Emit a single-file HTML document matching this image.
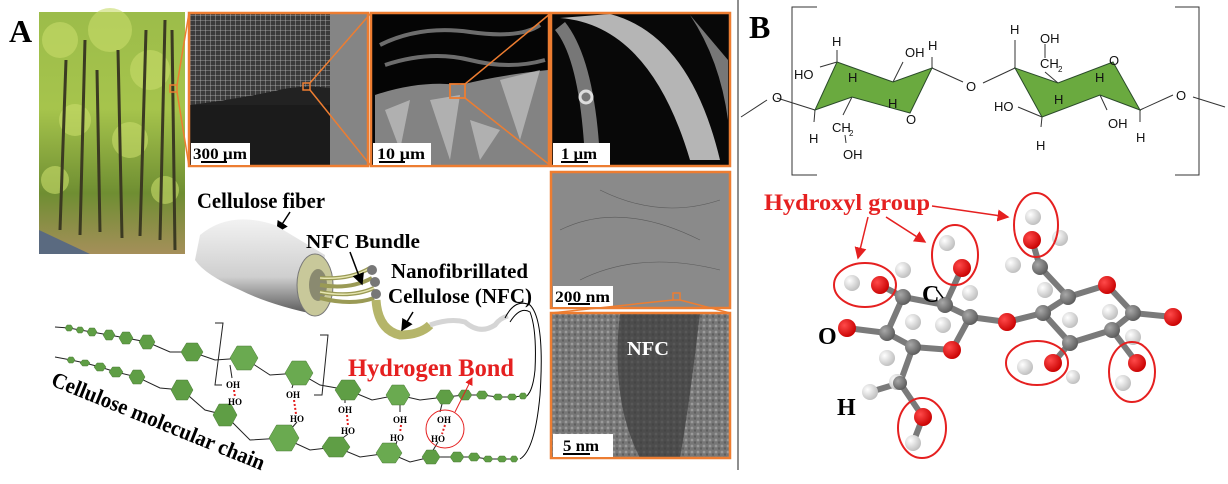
<!DOCTYPE html>
<html><head><meta charset="utf-8"><style>
html,body{margin:0;padding:0;background:#fff;}
svg{display:block;}
.s{font-family:"Liberation Serif",serif;font-weight:bold;}
.a{font-family:"Liberation Sans",sans-serif;}
</style></head><body>
<svg width="1228" height="484" viewBox="0 0 1228 484" xmlns="http://www.w3.org/2000/svg">
<defs>
<linearGradient id="tree" x1="0" y1="0" x2="0" y2="1">
<stop offset="0" stop-color="#9cbc4a"/><stop offset="0.4" stop-color="#a6c44c"/><stop offset="0.75" stop-color="#6f8e32"/><stop offset="1" stop-color="#a58f5a"/></linearGradient>
<linearGradient id="fib" x1="0" y1="0" x2="0" y2="1">
<stop offset="0" stop-color="#f2f2f2"/><stop offset="0.6" stop-color="#cfcfcf"/><stop offset="1" stop-color="#555"/></linearGradient>
<radialGradient id="gW" cx="0.35" cy="0.35" r="0.7"><stop offset="0" stop-color="#fff"/><stop offset="1" stop-color="#bdbdbd"/></radialGradient>
<radialGradient id="gR" cx="0.35" cy="0.35" r="0.7"><stop offset="0" stop-color="#ff4a4a"/><stop offset="1" stop-color="#c80000"/></radialGradient>
<radialGradient id="gG" cx="0.35" cy="0.35" r="0.7"><stop offset="0" stop-color="#a8a8a8"/><stop offset="1" stop-color="#5a5a5a"/></radialGradient>
<pattern id="grid" width="5" height="5" patternUnits="userSpaceOnUse"><rect width="5" height="5" fill="#3a3a3a"/><path d="M0 0H5M0 0V5" stroke="#bbb" stroke-width="0.8"/></pattern>
<pattern id="noise" width="6" height="6" patternUnits="userSpaceOnUse"><rect width="6" height="6" fill="#777"/><circle cx="2" cy="2" r="1.4" fill="#9a9a9a"/><circle cx="5" cy="4.5" r="1.2" fill="#5e5e5e"/></pattern>
<marker id="ar" markerWidth="8" markerHeight="8" refX="7" refY="4" orient="auto"><path d="M0,0 L8,4 L0,8 z" fill="#e52020"/></marker>
<marker id="ab" markerWidth="8" markerHeight="8" refX="7" refY="4" orient="auto"><path d="M0,0 L8,4 L0,8 z" fill="#000"/></marker>
</defs>

<text x="9" y="42" class="s" font-size="32">A</text>

<rect x="39" y="12" width="146" height="242" fill="url(#tree)"/>
<g fill="#c8dc6a" opacity="0.6"><circle cx="60" cy="40" r="18"/><circle cx="110" cy="30" r="22"/><circle cx="150" cy="70" r="20"/><circle cx="75" cy="120" r="16"/><circle cx="130" cy="140" r="18"/><circle cx="55" cy="180" r="14"/><circle cx="165" cy="190" r="14"/></g>
<g stroke="#3b3a22" stroke-width="3" fill="none">
<path d="M60 230 L66 60"/><path d="M80 235 L85 40"/><path d="M100 232 L97 70"/><path d="M122 238 L118 50"/><path d="M140 236 L146 30"/><path d="M160 240 L165 20"/><path d="M175 250 L172 30"/></g>
<path d="M39 254 L39 230 L90 254 Z" fill="#5a6a80"/>
<rect x="170" y="85" width="7" height="7" fill="none" stroke="#ed7d31" stroke-width="1.5"/>
<g stroke="#ed7d31" stroke-width="1.5"><line x1="177" y1="85" x2="189" y2="13"/><line x1="177" y1="92" x2="189" y2="166"/></g>

<rect x="189" y="13" width="179" height="153" fill="#222"/>
<path d="M190 14 H330 V88 Q300 84 270 92 Q230 100 190 105 Z" fill="url(#grid)"/>
<rect x="330" y="14" width="38" height="152" fill="#858585"/>
<rect x="190" y="105" width="140" height="60" fill="#1b1b1b"/>
<rect x="189" y="13" width="179" height="153" fill="none" stroke="#ed7d31" stroke-width="2.5"/>
<rect x="303" y="83" width="7" height="7" fill="none" stroke="#ed7d31" stroke-width="1.5"/>
<g stroke="#ed7d31" stroke-width="1.5"><line x1="310" y1="83" x2="371" y2="13"/><line x1="310" y1="90" x2="371" y2="166"/></g>
<rect x="191" y="143" width="59" height="22" fill="#fff"/>
<text x="193" y="159" class="s" font-size="16" textLength="54" lengthAdjust="spacingAndGlyphs">300 µm</text>
<line x1="201" y1="162" x2="227" y2="162" stroke="#000" stroke-width="2"/>

<rect x="371" y="13" width="178" height="153" fill="#050505"/>
<g stroke="#888" stroke-width="4" fill="none" opacity="0.8">
<path d="M380 45 Q420 25 470 32 T540 25"/><path d="M385 65 Q430 50 470 60 T545 60"/></g>
<path d="M375 95 Q420 80 460 85 Q500 75 548 70 L548 166 L375 166 Z" fill="#9a9a9a" opacity="0.85"/>
<g fill="#cfcfcf" opacity="0.6"><path d="M385 110 L400 150 L410 100 Z"/><path d="M430 100 L450 160 L460 95 Z"/><path d="M500 80 L520 140 L540 70 Z"/><path d="M470 120 L480 160 L500 130 Z"/></g>
<rect x="371" y="13" width="178" height="153" fill="none" stroke="#ed7d31" stroke-width="2.5"/>
<rect x="450" y="84" width="15" height="14" fill="none" stroke="#ed7d31" stroke-width="1.8"/>
<g stroke="#ed7d31" stroke-width="1.5"><line x1="465" y1="84" x2="551" y2="13"/><line x1="465" y1="98" x2="551" y2="166"/></g>
<rect x="373" y="143" width="58" height="22" fill="#fff"/>
<text x="377" y="159" class="s" font-size="16" textLength="48" lengthAdjust="spacingAndGlyphs">10 µm</text>
<line x1="379" y1="162" x2="405" y2="162" stroke="#000" stroke-width="2"/>

<rect x="551" y="13" width="179" height="153" fill="#080808"/>
<path d="M560 18 Q650 25 690 160 L720 160 Q690 35 610 14 Z" fill="#b5b5b5"/>
<path d="M555 30 Q580 60 585 160 L600 160 Q595 60 565 22 Z" fill="#777"/>
<path d="M690 15 Q720 60 728 120 L728 60 Z" fill="#777"/>
<circle cx="586" cy="97" r="6" fill="none" stroke="#ddd" stroke-width="3"/>
<rect x="551" y="13" width="179" height="153" fill="none" stroke="#ed7d31" stroke-width="2.5"/>
<rect x="553" y="143" width="57" height="22" fill="#fff"/>
<text x="561" y="159" class="s" font-size="16" textLength="36" lengthAdjust="spacingAndGlyphs">1 µm</text>
<line x1="561" y1="162" x2="588" y2="162" stroke="#000" stroke-width="2"/>

<rect x="551" y="172" width="179" height="136" fill="#8a8a8a"/>
<g stroke="#5a5a5a" stroke-width="0.6" fill="none"><path d="M560 230 Q620 200 700 240"/><path d="M580 280 Q640 250 720 270"/><path d="M600 190 Q660 220 720 200"/></g>
<rect x="551" y="172" width="179" height="136" fill="none" stroke="#ed7d31" stroke-width="2.5"/>
<rect x="553" y="286" width="60" height="21" fill="#fff"/>
<text x="555" y="302" class="s" font-size="16" textLength="55" lengthAdjust="spacingAndGlyphs">200 nm</text>
<line x1="568" y1="304" x2="590" y2="304" stroke="#000" stroke-width="2"/>
<rect x="673" y="293" width="7" height="7" fill="none" stroke="#ed7d31" stroke-width="1.5"/>
<g stroke="#ed7d31" stroke-width="1.5"><line x1="673" y1="300" x2="551" y2="313"/><line x1="680" y1="300" x2="730" y2="313"/></g>

<rect x="551" y="313" width="179" height="145" fill="url(#noise)"/>
<path d="M620 313 L700 313 Q690 400 680 458 L640 458 Q610 400 620 313 Z" fill="#3a3a3a" opacity="0.7"/>
<rect x="551" y="313" width="179" height="145" fill="none" stroke="#ed7d31" stroke-width="2.5"/>
<text x="627" y="355" class="s" font-size="20" fill="#fff" textLength="42" lengthAdjust="spacingAndGlyphs">NFC</text>
<rect x="553" y="434" width="60" height="23" fill="#fff"/>
<text x="563" y="451" class="s" font-size="16" textLength="36" lengthAdjust="spacingAndGlyphs">5 nm</text>
<line x1="563" y1="454" x2="590" y2="454" stroke="#000" stroke-width="2"/>

<line x1="738" y1="0" x2="738" y2="470" stroke="#444" stroke-width="1.2"/>

<text x="197" y="208" class="s" font-size="22" textLength="128" lengthAdjust="spacingAndGlyphs">Cellulose fiber</text>
<line x1="290" y1="212" x2="277" y2="232" stroke="#000" stroke-width="1.5" marker-end="url(#ab)"/>
<path d="M200 235 Q230 210 275 225 Q300 240 325 255 L318 315 Q270 305 240 290 Q205 275 195 260 Z" fill="url(#fib)"/>
<ellipse cx="315" cy="285" rx="18" ry="31" fill="#c8c89a" stroke="#777"/>
<ellipse cx="318" cy="285" rx="9" ry="16" fill="#8a8a70"/>
<g stroke="#9a9a55" stroke-width="4" fill="none">
<path d="M320 278 Q350 280 370 268"/><path d="M320 285 Q350 290 372 278"/><path d="M320 292 Q352 298 374 288"/><path d="M320 298 Q352 306 374 298"/></g>
<g stroke="#e6e6b0" stroke-width="1.5" fill="none">
<path d="M320 278 Q350 280 370 268"/><path d="M320 292 Q352 298 374 288"/></g>
<circle cx="372" cy="270" r="5" fill="#777"/><circle cx="375" cy="282" r="5" fill="#777"/><circle cx="376" cy="294" r="5" fill="#777"/>
<text x="306" y="248" class="s" font-size="20" textLength="114" lengthAdjust="spacingAndGlyphs">NFC Bundle</text>
<line x1="350" y1="252" x2="362" y2="284" stroke="#000" stroke-width="1.5" marker-end="url(#ab)"/>
<text x="391" y="278" class="s" font-size="21" textLength="137" lengthAdjust="spacingAndGlyphs">Nanofibrillated</text>
<text x="388" y="303" class="s" font-size="21" textLength="144" lengthAdjust="spacingAndGlyphs">Cellulose (NFC)</text>
<path d="M376 300 Q378 330 400 335 Q420 335 430 325" stroke="#b5b56a" stroke-width="9" fill="none"/>
<path d="M430 325 Q450 318 465 322 Q480 335 495 325 Q500 318 508 316" stroke="#d5d5d5" stroke-width="5" fill="none"/>
<line x1="413" y1="312" x2="402" y2="330" stroke="#000" stroke-width="1.5" marker-end="url(#ab)"/>
<path d="M505 318 Q515 298 530 305 Q545 320 540 395 Q535 450 520 459" stroke="#000" stroke-width="1" fill="none"/>
<path d="M510 322 Q520 306 530 312 Q537 330 535 370 Q532 400 520 398" stroke="#000" stroke-width="1" fill="none"/>

<g stroke="#222" stroke-width="1" fill="none">
<polyline points="55,327 69,328 80,330 92,332 109,335 126,338 147,342 170,352 192,352 215,360 244,358 270,375 299,373 320,385 348,390 372,400 398,395 420,400 445,397 465,395 482,395 498,397 512,397 523,396"/>
<polyline points="55,357 71,360 85,363 100,367 116,372 137,377 160,388 182,390 205,410 225,415 250,440 284,438 310,450 336,447 360,457 389,453 410,462 431,457 457,457 474,457 488,459 502,459 514,459"/>
<path d="M215 323 L223 323 L215 385 L222 385"/><path d="M320 335 L328 335 L322 395 L314 395"/>
<path d="M230 365 L232 378"/><path d="M295 378 L292 388"/><path d="M345 392 L345 403"/><path d="M400 400 L400 412"/><path d="M443 400 L440 412"/>
<path d="M232 406 L226 412"/><path d="M297 422 L290 430"/><path d="M348 434 L340 440"/><path d="M397 441 L395 448"/><path d="M438 442 L432 452"/>
</g>
<g fill="#5f9e45" stroke="#4a7a36" stroke-width="0.5">
<g transform="translate(69,328)"><polygon points="-4,0 -2,-3 2,-3 4,0 2,3 -2,3"/></g>
<g transform="translate(80,330)"><polygon points="-4,0 -2,-3 2,-3 4,0 2,3 -2,3"/></g>
<g transform="translate(92,332)"><polygon points="-5,0 -2.5,-4 2.5,-4 5,0 2.5,4 -2.5,4"/></g>
<g transform="translate(109,335)"><polygon points="-6,0 -3,-5 3,-5 6,0 3,5 -3,5"/></g>
<g transform="translate(126,338)"><polygon points="-7,0 -3.5,-6 3.5,-6 7,0 3.5,6 -3.5,6"/></g>
<g transform="translate(147,342)"><polygon points="-8,0 -4,-7 4,-7 8,0 4,7 -4,7"/></g>
<g transform="translate(192,352)"><polygon points="-11,0 -5.5,-9 5.5,-9 11,0 5.5,9 -5.5,9"/></g>
<g transform="translate(244,358)"><polygon points="-14,0 -7,-12 7,-12 14,0 7,12 -7,12" fill="#6aaa50"/></g>
<g transform="translate(299,373)"><polygon points="-14,0 -7,-12 7,-12 14,0 7,12 -7,12" fill="#6aaa50"/></g>
<g transform="translate(348,390)"><polygon points="-13,0 -6.5,-10 6.5,-10 13,0 6.5,10 -6.5,10"/></g>
<g transform="translate(398,395)"><polygon points="-12,0 -6,-10 6,-10 12,0 6,10 -6,10" fill="#6aaa50"/></g>
<g transform="translate(445,397)"><polygon points="-9,0 -4.5,-7 4.5,-7 9,0 4.5,7 -4.5,7"/></g>
<g transform="translate(465,395)"><polygon points="-7,0 -3.5,-5 3.5,-5 7,0 3.5,5 -3.5,5"/></g>
<g transform="translate(482,395)"><polygon points="-6,0 -3,-4 3,-4 6,0 3,4 -3,4"/></g>
<g transform="translate(498,397)"><polygon points="-5,0 -2.5,-3 2.5,-3 5,0 2.5,3 -2.5,3"/></g>
<g transform="translate(512,397)"><polygon points="-5,0 -2.5,-3 2.5,-3 5,0 2.5,3 -2.5,3"/></g>
<g transform="translate(523,396)"><polygon points="-4,0 -2,-3 2,-3 4,0 2,3 -2,3"/></g>
<g transform="translate(71,360)"><polygon points="-4,0 -2,-3 2,-3 4,0 2,3 -2,3"/></g>
<g transform="translate(85,363)"><polygon points="-5,0 -2.5,-3 2.5,-3 5,0 2.5,3 -2.5,3"/></g>
<g transform="translate(100,367)"><polygon points="-6,0 -3,-4 3,-4 6,0 3,4 -3,4"/></g>
<g transform="translate(116,372)"><polygon points="-7,0 -3.5,-5 3.5,-5 7,0 3.5,5 -3.5,5"/></g>
<g transform="translate(137,377)"><polygon points="-8,0 -4,-7 4,-7 8,0 4,7 -4,7"/></g>
<g transform="translate(182,390)"><polygon points="-11,0 -5.5,-10 5.5,-10 11,0 5.5,10 -5.5,10"/></g>
<g transform="translate(225,415)"><polygon points="-12,0 -6,-11 6,-11 12,0 6,11 -6,11"/></g>
<g transform="translate(284,438)"><polygon points="-15,0 -7.5,-13 7.5,-13 15,0 7.5,13 -7.5,13" fill="#6aaa50"/></g>
<g transform="translate(336,447)"><polygon points="-14,0 -7,-10 7,-10 14,0 7,10 -7,10"/></g>
<g transform="translate(389,453)"><polygon points="-13,0 -6.5,-10 6.5,-10 13,0 6.5,10 -6.5,10" fill="#6aaa50"/></g>
<g transform="translate(431,457)"><polygon points="-9,0 -4.5,-7 4.5,-7 9,0 4.5,7 -4.5,7"/></g>
<g transform="translate(457,457)"><polygon points="-7,0 -3.5,-5 3.5,-5 7,0 3.5,5 -3.5,5"/></g>
<g transform="translate(474,457)"><polygon points="-6,0 -3,-4 3,-4 6,0 3,4 -3,4"/></g>
<g transform="translate(488,459)"><polygon points="-5,0 -2.5,-3 2.5,-3 5,0 2.5,3 -2.5,3"/></g>
<g transform="translate(502,459)"><polygon points="-5,0 -2.5,-3 2.5,-3 5,0 2.5,3 -2.5,3"/></g>
<g transform="translate(514,459)"><polygon points="-4,0 -2,-3 2,-3 4,0 2,3 -2,3"/></g>
</g>
<g class="s" font-size="9">
<text x="226" y="388">OH</text><text x="228" y="405">HO</text>
<text x="286" y="398">OH</text><text x="290" y="422">HO</text>
<text x="338" y="413">OH</text><text x="341" y="434">HO</text>
<text x="393" y="423">OH</text><text x="390" y="441">HO</text>
<text x="437" y="423">OH</text><text x="431" y="442">HO</text>
</g>
<g stroke="#e52020" stroke-width="2" stroke-dasharray="2,2">
<line x1="234" y1="390" x2="235" y2="397"/><line x1="294" y1="400" x2="296" y2="414"/><line x1="347" y1="415" x2="348" y2="426"/><line x1="401" y1="425" x2="400" y2="433"/><line x1="445" y1="425" x2="442" y2="434"/>
</g>
<circle cx="445" cy="429" r="19" fill="none" stroke="#e52020" stroke-width="1"/>
<line x1="455" y1="412" x2="472" y2="378" stroke="#e52020" stroke-width="1" marker-end="url(#ar)"/>
<text x="348" y="376" class="s" font-size="25" fill="#e52020" textLength="166" lengthAdjust="spacingAndGlyphs">Hydrogen Bond</text>
<text transform="translate(50,385) rotate(22)" class="s" font-size="22" textLength="228" lengthAdjust="spacingAndGlyphs">Cellulose molecular chain</text>

<text x="749" y="38" class="s" font-size="32">B</text>
<g stroke="#333" stroke-width="1" fill="none">
<path d="M817 7 H792 V175 H817"/><path d="M1175 7 H1199 V175 H1175"/>
<path d="M741 117 L767 100"/><path d="M777 98 L815 110"/>
<path d="M932 68 L963 82"/><path d="M983 83 L1015 68"/>
<path d="M1140 110 L1173 95"/><path d="M1193 97 L1225 107"/>
<path d="M837 62 L837 50"/><path d="M837 62 L820 67"/><path d="M815 110 L814 122"/><path d="M852 97 L843 115"/>
<path d="M893 82 L903 62"/><path d="M893 82 L893 90"/><path d="M852 97 L852 85"/><path d="M932 68 L932 57"/>
<path d="M845 135 L846 143"/><path d="M1015 68 L1015 40"/><path d="M1058 83 L1045 72"/><path d="M1045 58 L1045 44"/>
<path d="M1042 117 L1018 107"/><path d="M1042 117 L1041 127"/><path d="M1058 83 L1058 90"/><path d="M1100 95 L1100 82"/><path d="M1100 95 L1107 110"/><path d="M1140 110 L1140 122"/>
</g>
<polygon points="837,62 893,82 932,68 910,113 852,97 815,110" fill="#6aaa3f" stroke="#2a4a2a" stroke-width="1"/>
<polygon points="1015,68 1058,83 1113,62 1140,110 1100,95 1042,117" fill="#6aaa3f" stroke="#2a4a2a" stroke-width="1"/>
<g class="a" font-size="13" fill="#111">
<text x="832" y="46">H</text><text x="794" y="79">HO</text><text x="848" y="82">H</text>
<text x="905" y="57">OH</text><text x="928" y="50">H</text><text x="888" y="108">H</text><text x="906" y="124">O</text>
<text x="772" y="102">O</text><text x="809" y="143">H</text><text x="832" y="132">CH</text><text x="849" y="136" font-size="8">2</text><text x="843" y="159">OH</text>
<text x="966" y="91">O</text><text x="1010" y="34">H</text><text x="1040" y="43">OH</text><text x="1040" y="68">CH</text><text x="1058" y="72" font-size="8">2</text>
<text x="1109" y="65">O</text><text x="1095" y="82">H</text><text x="1054" y="104">H</text><text x="994" y="111">HO</text>
<text x="1108" y="128">OH</text><text x="1036" y="150">H</text><text x="1136" y="142">H</text><text x="1176" y="100">O</text>
</g>

<g stroke="#7a7a7a" stroke-width="6" stroke-linecap="round">
<line x1="903" y1="297" x2="945" y2="305"/><line x1="945" y1="305" x2="970" y2="317"/><line x1="903" y1="297" x2="887" y2="333"/>
<line x1="887" y1="333" x2="913" y2="347"/><line x1="913" y1="347" x2="952" y2="350"/><line x1="952" y1="350" x2="970" y2="317"/>
<line x1="913" y1="347" x2="900" y2="383"/><line x1="900" y1="383" x2="923" y2="417"/><line x1="887" y1="333" x2="847" y2="328"/>
<line x1="903" y1="297" x2="880" y2="285"/><line x1="945" y1="305" x2="962" y2="268"/><line x1="970" y1="317" x2="1007" y2="322"/>
<line x1="1007" y1="322" x2="1043" y2="313"/><line x1="1043" y1="313" x2="1068" y2="297"/><line x1="1068" y1="297" x2="1040" y2="267"/>
<line x1="1040" y1="267" x2="1032" y2="240"/><line x1="1068" y1="297" x2="1107" y2="285"/><line x1="1107" y1="285" x2="1133" y2="313"/>
<line x1="1133" y1="313" x2="1173" y2="317"/><line x1="1133" y1="313" x2="1112" y2="330"/><line x1="1112" y1="330" x2="1070" y2="343"/>
<line x1="1070" y1="343" x2="1043" y2="313"/><line x1="1070" y1="343" x2="1053" y2="363"/><line x1="1112" y1="330" x2="1137" y2="363"/>
<line x1="900" y1="383" x2="870" y2="392"/><line x1="923" y1="417" x2="913" y2="443"/>
</g>
<g>
<circle cx="903" cy="270" r="8" fill="url(#gW)"/><circle cx="947" cy="243" r="8" fill="url(#gW)"/><circle cx="1033" cy="217" r="8" fill="url(#gW)"/>
<circle cx="1060" cy="238" r="8" fill="url(#gW)"/><circle cx="1013" cy="265" r="8" fill="url(#gW)"/><circle cx="970" cy="293" r="8" fill="url(#gW)"/>
<circle cx="943" cy="325" r="8" fill="url(#gW)"/><circle cx="913" cy="322" r="8" fill="url(#gW)"/><circle cx="887" cy="358" r="8" fill="url(#gW)"/>
<circle cx="1070" cy="320" r="8" fill="url(#gW)"/><circle cx="1133" cy="337" r="8" fill="url(#gW)"/><circle cx="1073" cy="377" r="7" fill="url(#gW)"/>
<circle cx="1045" cy="290" r="8" fill="url(#gW)"/><circle cx="1110" cy="312" r="8" fill="url(#gW)"/><circle cx="897" cy="382" r="8" fill="url(#gW)"/>
<circle cx="903" cy="297" r="8" fill="url(#gG)"/><circle cx="945" cy="305" r="8" fill="url(#gG)"/><circle cx="970" cy="317" r="8" fill="url(#gG)"/>
<circle cx="887" cy="333" r="8" fill="url(#gG)"/><circle cx="913" cy="347" r="8" fill="url(#gG)"/><circle cx="900" cy="383" r="7" fill="url(#gG)"/>
<circle cx="1040" cy="267" r="8" fill="url(#gG)"/><circle cx="1068" cy="297" r="8" fill="url(#gG)"/><circle cx="1043" cy="313" r="8" fill="url(#gG)"/>
<circle cx="1070" cy="343" r="8" fill="url(#gG)"/><circle cx="1112" cy="330" r="8" fill="url(#gG)"/><circle cx="1133" cy="313" r="8" fill="url(#gG)"/>
<circle cx="852" cy="283" r="8" fill="url(#gW)"/><circle cx="1025" cy="367" r="8" fill="url(#gW)"/><circle cx="1123" cy="383" r="8" fill="url(#gW)"/>
<circle cx="870" cy="392" r="8" fill="url(#gW)"/><circle cx="913" cy="443" r="8" fill="url(#gW)"/>
<circle cx="880" cy="285" r="9" fill="url(#gR)"/><circle cx="962" cy="268" r="9" fill="url(#gR)"/><circle cx="1032" cy="240" r="9" fill="url(#gR)"/>
<circle cx="1107" cy="285" r="9" fill="url(#gR)"/><circle cx="1173" cy="317" r="9" fill="url(#gR)"/><circle cx="1007" cy="322" r="9" fill="url(#gR)"/>
<circle cx="952" cy="350" r="9" fill="url(#gR)"/><circle cx="847" cy="328" r="9" fill="url(#gR)"/><circle cx="923" cy="417" r="9" fill="url(#gR)"/>
<circle cx="1053" cy="363" r="9" fill="url(#gR)"/><circle cx="1137" cy="363" r="9" fill="url(#gR)"/>
</g>
<g fill="none" stroke="#e52020" stroke-width="2">
<ellipse cx="865" cy="285" rx="31" ry="22"/>
<ellipse cx="955" cy="255" rx="23" ry="30"/>
<ellipse cx="1036" cy="225" rx="22" ry="32"/>
<ellipse cx="1037" cy="363" rx="31" ry="22"/>
<ellipse cx="1132" cy="372" rx="23" ry="30"/>
<ellipse cx="922" cy="428" rx="24" ry="30"/>
</g>
<text x="764" y="210" class="s" font-size="23" fill="#e52020" textLength="166" lengthAdjust="spacingAndGlyphs">Hydroxyl group</text>
<g stroke="#e52020" stroke-width="1.5">
<line x1="868" y1="217" x2="858" y2="258" marker-end="url(#ar)"/>
<line x1="886" y1="217" x2="925" y2="242" marker-end="url(#ar)"/>
<line x1="932" y1="206" x2="1008" y2="217" marker-end="url(#ar)"/>
</g>
<text x="922" y="302" class="s" font-size="24">C</text>
<line x1="937" y1="290" x2="943" y2="298" stroke="#000" stroke-width="1.5"/>
<text x="818" y="344" class="s" font-size="24">O</text>
<text x="837" y="415" class="s" font-size="24">H</text>
</svg>
</body></html>
